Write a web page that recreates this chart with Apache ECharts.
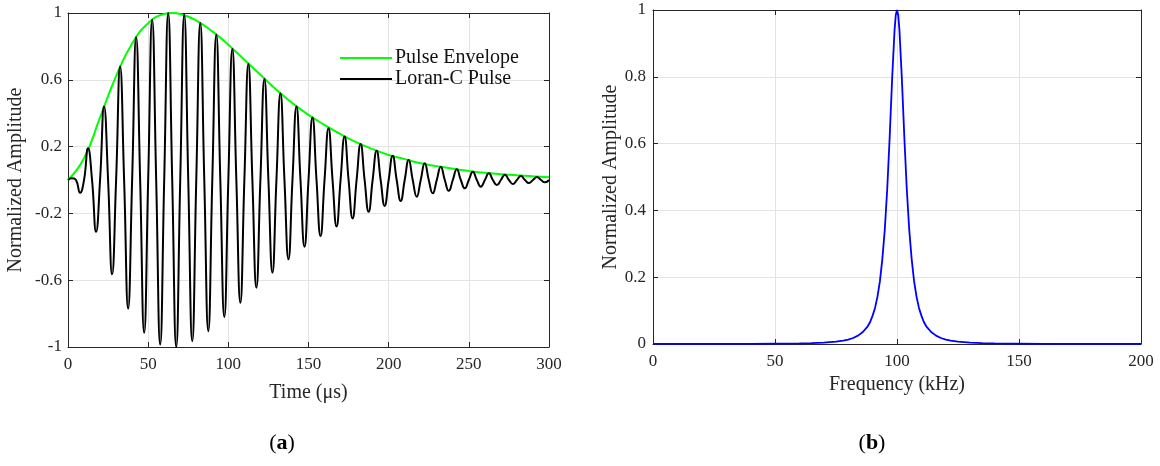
<!DOCTYPE html>
<html>
<head>
<meta charset="utf-8">
<script src="https://cdn.jsdelivr.net/npm/echarts@6/dist/echarts.min.js"></script>
<style>
  html, body { margin: 0; padding: 0; background: #fff; }
  #chart { width: 1160px; height: 466px; }
</style>
</head>
<body>
<div id="chart"></div>
<script>
// (a) Loran-C pulse: peaks, troughs and zero crossings
const peakTimes = [2.5, 12.5, 22.5, 32.5, 42.5, 52.5, 62.5, 72.5, 82.5, 92.5,
  102.5, 112.5, 122.5, 132.5, 142.5, 152.5, 162.5, 172.5, 182.5, 192.5,
  202.5, 212.5, 222.5, 232.5, 242.5, 252.5, 262.5, 272.5, 282.5, 292.5];
const peakValues = [0.01, 0.19, 0.44, 0.68, 0.855, 0.96, 1.0, 0.99, 0.94, 0.87,
  0.785, 0.695, 0.605, 0.52, 0.44, 0.375, 0.31, 0.26, 0.215, 0.175,
  0.145, 0.12, 0.10, 0.08, 0.064, 0.05, 0.04, 0.032, 0.024, 0.018];
const troughTimes = [7.5, 17.5, 27.5, 37.5, 47.5, 57.5, 67.5, 77.5, 87.5, 97.5,
  107.5, 117.5, 127.5, 137.5, 147.5, 157.5, 167.5, 177.5, 187.5, 197.5,
  207.5, 217.5, 227.5, 237.5, 247.5, 257.5, 267.5, 277.5, 287.5, 297.5];
const troughValues = [-0.077, -0.31, -0.565, -0.77, -0.915, -0.985, -1.0, -0.965, -0.905, -0.82,
  -0.735, -0.645, -0.555, -0.475, -0.40, -0.336, -0.278, -0.23, -0.19, -0.155,
  -0.125, -0.10, -0.08, -0.065, -0.05, -0.04, -0.03, -0.024, -0.018, -0.014];
const zeroTimes = [0, 5, 10, 15, 20, 25, 30, 35, 40, 45, 50, 55, 60, 65, 70, 75,
  80, 85, 90, 95, 100, 105, 110, 115, 120, 125, 130, 135, 140, 145, 150, 155,
  160, 165, 170, 175, 180, 185, 190, 195, 200, 205, 210, 215, 220, 225, 230, 235,
  240, 245, 250, 255, 260, 265, 270, 275, 280, 285, 290, 295, 300];

// pulse envelope
const envTimes = [0, 10, 20, 30, 40, 50, 60, 65, 70, 80, 90, 100, 110, 120, 130, 140,
  150, 160, 170, 180, 190, 200, 210, 220, 230, 240, 250, 260, 270, 280, 290, 300];
const envValues = [0, 0.13, 0.375, 0.622, 0.817, 0.938, 0.994, 1.0, 0.994, 0.955, 0.89, 0.81,
  0.72, 0.63, 0.54, 0.46, 0.39, 0.33, 0.275, 0.225, 0.185, 0.15, 0.125, 0.10,
  0.083, 0.067, 0.054, 0.043, 0.035, 0.028, 0.022, 0.017];

// (b) spectrum
const freqs = [0, 10, 20, 30, 40, 50, 55, 60, 65, 70, 75, 78, 80, 82, 84, 86, 88, 89, 90,
  91, 92, 93, 94, 95, 96, 97, 98, 99, 99.5, 100, 100.5, 101, 102, 103, 104, 105, 106,
  107, 108, 109, 110, 111, 112, 114, 116, 118, 120, 122, 125, 130, 135, 140, 145,
  150, 160, 170, 180, 190, 200];
const mags = [0.0001, 0.0002, 0.0003, 0.0004, 0.0006, 0.001, 0.0013, 0.0019, 0.0027,
  0.0044, 0.0073, 0.0103, 0.0134, 0.018, 0.025, 0.036, 0.053, 0.066, 0.085,
  0.108, 0.142, 0.188, 0.255, 0.343, 0.465, 0.62, 0.793, 0.94, 0.985, 1.0, 0.985,
  0.94, 0.793, 0.62, 0.465, 0.343, 0.255, 0.188, 0.142, 0.108, 0.085, 0.066, 0.053,
  0.036, 0.025, 0.018, 0.0134, 0.0103, 0.0073, 0.0044, 0.0027, 0.0019, 0.0013,
  0.001, 0.0006, 0.0004, 0.0003, 0.0002, 0.0001];

const pulse = [];
zeroTimes.forEach(t => pulse.push([t, 0]));
peakTimes.forEach((t, i) => pulse.push([t, peakValues[i]]));
troughTimes.forEach((t, i) => pulse.push([t, troughValues[i]]));
pulse.sort((a, b) => a[0] - b[0]);

const envelope = envTimes.map((t, i) => [t, envValues[i]]);
const spectrum = freqs.map((f, i) => [f, mags[i]]);

const font = "'Liberation Serif', 'DejaVu Serif', serif";
const ink = '#262626';
const fmt = v => String(Math.round(v * 10) / 10);

// top / right axes only close the box
function boxAxis(extra) {
  return Object.assign({
    type: 'value',
    axisLine: { show: true, onZero: false, lineStyle: { color: ink, width: 1 } },
    axisTick: { show: true, inside: true, length: 5, lineStyle: { color: ink } },
    axisLabel: { show: false },
    splitLine: { show: false }
  }, extra);
}

function mainAxis(extra) {
  return Object.assign({
    type: 'value',
    axisLine: { show: true, onZero: false, lineStyle: { color: ink, width: 1 } },
    axisTick: { show: true, inside: true, length: 5, lineStyle: { color: ink } },
    axisLabel: { color: ink, fontSize: 17, fontFamily: font, formatter: fmt },
    splitLine: { show: true, lineStyle: { color: '#e3e3e3', width: 1 } },
    nameLocation: 'middle',
    nameTextStyle: { color: ink, fontSize: 20, fontFamily: font }
  }, extra);
}

// panel caption "(a)" / "(b)" with a bold letter
function caption(letter, x, y) {
  return {
    type: 'text', x: x, y: y,
    style: {
      text: '{p|(}{b|' + letter + '}{p|)}', align: 'center', verticalAlign: 'middle',
      textAlign: 'center', textVerticalAlign: 'middle',
      rich: {
        p: { fontSize: 22, fontFamily: font, fill: '#000' },
        b: { fontSize: 22, fontFamily: font, fontWeight: 'bold', fill: '#000' }
      }
    }
  };
}

const myChart = echarts.init(document.getElementById('chart'));
myChart.setOption({
  animation: false,
  backgroundColor: '#fff',
  grid: [
    { left: 68, top: 13, width: 481, height: 334 },
    { left: 653, top: 10, width: 488, height: 334 }
  ],
  legend: {
    data: ['Pulse Envelope', 'Loran-C Pulse'],
    orient: 'vertical',
    left: 340,
    top: 48,
    padding: 0,
    icon: 'rect',
    itemWidth: 52,
    itemHeight: 2,
    itemGap: 1,
    textStyle: { color: '#111', fontSize: 20, fontFamily: font, padding: [0, 0, 0, -2] }
  },
  xAxis: [
    mainAxis({ gridIndex: 0, min: 0, max: 300, interval: 50, name: 'Time (\u03bcs)', nameGap: 36,
      axisLabel: { color: ink, fontSize: 17, fontFamily: font, margin: 9 } }),
    boxAxis({ gridIndex: 0, position: 'top', min: 0, max: 300, interval: 50 }),
    mainAxis({ gridIndex: 1, min: 0, max: 200, interval: 50, name: 'Frequency (kHz)', nameGap: 31,
      axisLabel: { color: ink, fontSize: 17, fontFamily: font, margin: 9 } }),
    boxAxis({ gridIndex: 1, position: 'top', min: 0, max: 200, interval: 50 })
  ],
  yAxis: [
    mainAxis({ gridIndex: 0, min: -1, max: 1, interval: 0.4, name: 'Normalized Amplitude', nameGap: 42,
      axisLabel: { color: ink, fontSize: 17, fontFamily: font, margin: 6, formatter: fmt } }),
    boxAxis({ gridIndex: 0, position: 'right', min: -1, max: 1, interval: 0.4 }),
    mainAxis({ gridIndex: 1, min: 0, max: 1, interval: 0.2, name: 'Normalized Amplitude', nameGap: 32,
      axisLabel: { color: ink, fontSize: 17, fontFamily: font, margin: 7, formatter: fmt } }),
    boxAxis({ gridIndex: 1, position: 'right', min: 0, max: 1, interval: 0.2 })
  ],
  series: [
    {
      name: 'Pulse Envelope',
      type: 'line',
      xAxisIndex: 0,
      yAxisIndex: 0,
      data: envelope,
      smooth: true,
      symbol: 'none',
      color: '#00ff00',
      lineStyle: { width: 2, color: '#00ff00' }
    },
    {
      name: 'Loran-C Pulse',
      type: 'line',
      xAxisIndex: 0,
      yAxisIndex: 0,
      data: pulse,
      smooth: 0.5,
      symbol: 'none',
      color: '#000',
      lineStyle: { width: 2, color: '#000' }
    },
    {
      name: 'Spectrum',
      type: 'line',
      xAxisIndex: 2,
      yAxisIndex: 2,
      data: spectrum,
      symbol: 'none',
      color: '#0000ff',
      lineStyle: { width: 1.8, color: '#0000ff' }
    }
  ],
  graphic: [
    caption('a', 282, 443),
    caption('b', 872, 443)
  ]
});
</script>
</body>
</html>
